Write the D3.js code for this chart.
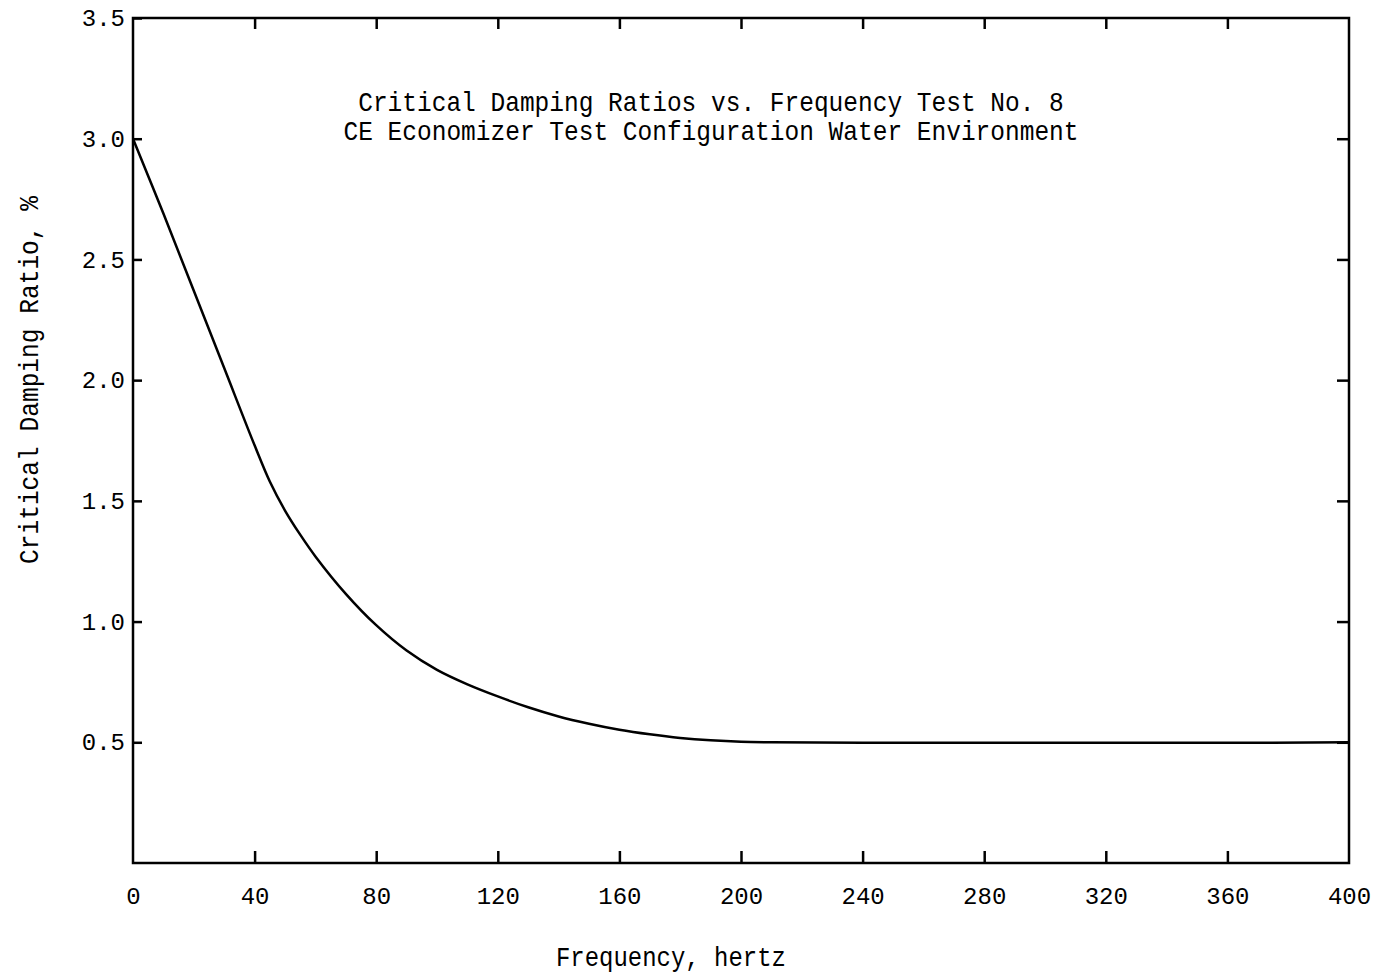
<!DOCTYPE html>
<meta charset="utf-8">
<head>
<style>
  body { margin: 0; background: #fff; }
  .tick text { font-family: "Liberation Mono", "DejaVu Sans Mono", monospace; }
</style>
</head>
<body>
<script src="https://d3js.org/d3.v7.min.js"></script>
<div id="my_dataviz"></div>

<script>
    // data
    var freq = [0, 10, 20, 30, 40, 45, 50, 55, 60, 70, 80, 90, 100, 110, 120, 130, 140, 150, 160, 170, 180, 190, 200, 210, 240, 300, 360, 400];
    var ratio = [3.0, 2.69, 2.37, 2.05, 1.73, 1.58, 1.46, 1.36, 1.27, 1.115, 0.985, 0.88, 0.80, 0.74, 0.69, 0.645, 0.607, 0.577, 0.552, 0.533, 0.518, 0.508, 0.502, 0.5, 0.498, 0.498, 0.498, 0.5];
    var xTicks = [0, 40, 80, 120, 160, 200, 240, 280, 320, 360, 400];
    var yTicks = [0.5, 1.0, 1.5, 2.0, 2.5, 3.0, 3.5];
    var titleLines = ["Critical Damping Ratios vs. Frequency Test No. 8",
                      "CE Economizer Test Configuration Water Environment"];

    var margin = {top: 18, right: 30, bottom: 114, left: 133},
        width = 1379 - margin.left - margin.right,
        height = 977 - margin.top - margin.bottom;

    var svg = d3.select("#my_dataviz")
      .append("svg")
        .attr("width", 1379)
        .attr("height", 977)
      .append("g")
        .attr("transform", "translate(" + margin.left + "," + margin.top + ")");

    var x = d3.scaleLinear().domain([0, 400]).range([0, width]);
    var y = d3.scaleLinear().domain([0, 3.5]).range([height, 0]);

    var fmt = d3.format(".1f");

    // left axis (ticks point inward)
    svg.append("g")
      .call(d3.axisLeft(y).tickValues(yTicks).tickFormat(fmt).tickSize(-9).tickSizeOuter(0).tickPadding(8))
      .call(function(g) { g.select(".domain").remove(); })
      .selectAll("text").attr("font-size", "24px");

    // right axis, ticks only
    svg.append("g")
      .attr("transform", "translate(" + width + ",0)")
      .call(d3.axisRight(y).tickValues(yTicks.slice(0, 6)).tickFormat("").tickSize(-12).tickSizeOuter(0))
      .call(function(g) { g.select(".domain").remove(); });

    // top axis, ticks only
    svg.append("g")
      .call(d3.axisTop(x).tickValues(xTicks.slice(1, 10)).tickFormat("").tickSize(-11).tickSizeOuter(0))
      .call(function(g) { g.select(".domain").remove(); });

    // bottom axis
    svg.append("g")
      .attr("transform", "translate(0," + height + ")")
      .call(d3.axisBottom(x).tickValues(xTicks).tickSize(-12).tickSizeOuter(0).tickPadding(24))
      .call(function(g) { g.select(".domain").remove(); })
      .call(function(g) {
        g.selectAll(".tick line").filter(function(d) { return d == 0 || d == 400; }).remove();
      })
      .selectAll("text").attr("font-size", "24px");

    svg.selectAll(".tick line").attr("stroke", "#000").attr("stroke-width", 2.5);

    // frame
    svg.append("rect")
      .attr("x", 0).attr("y", 0)
      .attr("width", width).attr("height", height)
      .attr("fill", "none")
      .attr("stroke", "#000")
      .attr("stroke-width", 2.5);

    // the curve
    var pts = freq.map(function(f, i) { return [f, ratio[i]]; });
    var line = d3.line()
      .x(function(d) { return x(d[0]); })
      .y(function(d) { return y(d[1]); })
      .curve(d3.curveCatmullRom.alpha(0.5));

    svg.append("path")
      .datum(pts)
      .attr("d", line)
      .attr("fill", "none")
      .attr("stroke", "#000")
      .attr("stroke-width", 2.5);

    // title inside the plot
    var lab = "'Liberation Mono', 'DejaVu Sans Mono', monospace";
    svg.selectAll(".title")
      .data(titleLines)
      .enter()
      .append("text")
        .attr("class", "title")
        .attr("x", 711 - margin.left)
        .attr("y", function(d, i) { return 93 + i * 29; })
        .attr("text-anchor", "middle")
        .attr("font-family", lab)
        .attr("font-size", "28px")
        .attr("textLength", function(d) { return d.length * 14.7; })
        .attr("lengthAdjust", "spacingAndGlyphs")
        .text(function(d) { return d; });

    // axis titles
    svg.append("text")
      .attr("transform", "translate(" + (38 - margin.left) + "," + (380 - margin.top) + ") rotate(-90)")
      .attr("text-anchor", "middle")
      .attr("font-family", lab)
      .attr("font-size", "27px")
      .attr("textLength", 368)
      .attr("lengthAdjust", "spacingAndGlyphs")
      .text("Critical Damping Ratio, %");

    svg.append("text")
      .attr("x", 671 - margin.left)
      .attr("y", 966 - margin.top)
      .attr("text-anchor", "middle")
      .attr("font-family", lab)
      .attr("font-size", "27px")
      .attr("textLength", 230)
      .attr("lengthAdjust", "spacingAndGlyphs")
      .text("Frequency, hertz");
</script>
</body>
